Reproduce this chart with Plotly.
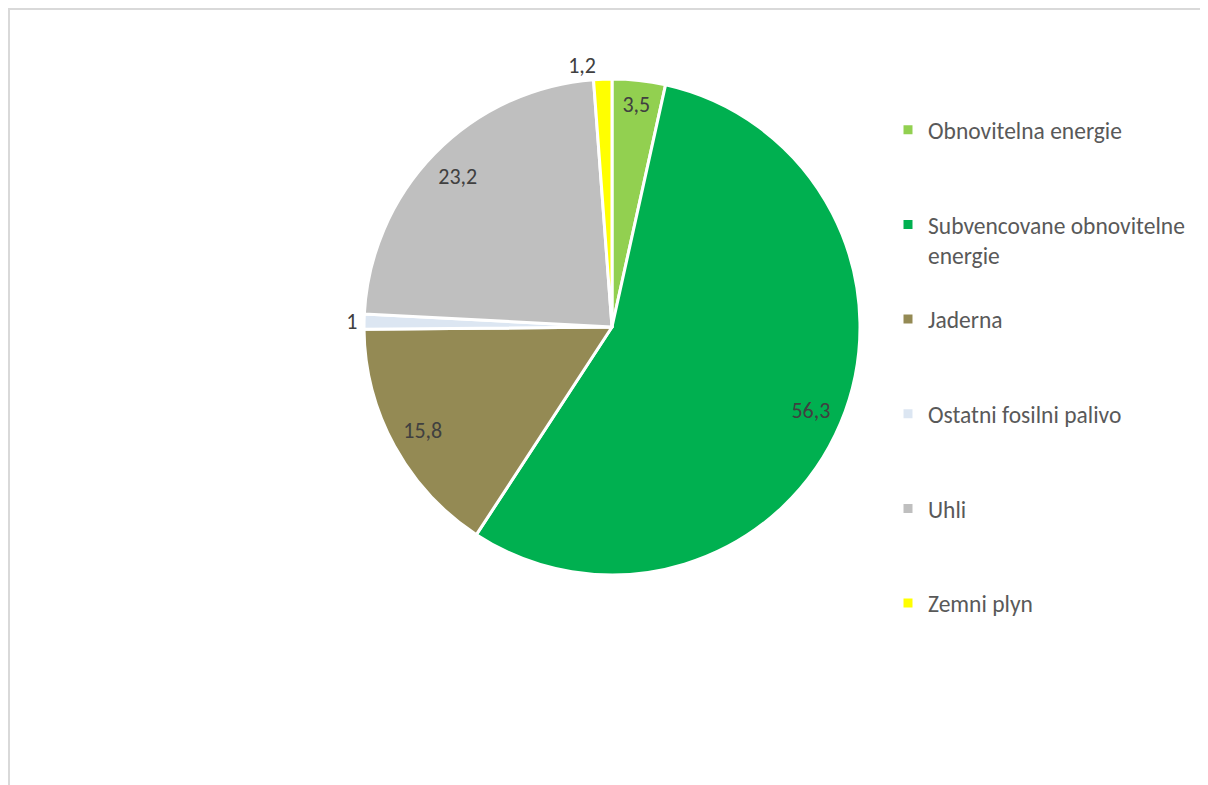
import plotly.graph_objects as go

categories = ["Obnovitelna energie", "Subvencovane obnovitelne energie", "Jaderna",
              "Ostatni fosilni palivo", "Uhli", "Zemni plyn"]
values = [3.5, 56.3, 15.8, 1.0, 23.2, 1.2]
colors = ["#92D050", "#00B050", "#948A54", "#DCE6F2", "#BFBFBF", "#FFFF00"]
text_positions = ["inside", "inside", "inside", "outside", "inside", "outside"]

# legend labels: wrap long label, pad every entry to 3 lines for even spacing
legend_labels = []
for c in categories:
    if c == "Subvencovane obnovitelne energie":
        base = "Subvencovane obnovitelne<br>energie"
    else:
        base = c
    nlines = base.count("<br>") + 1
    legend_labels.append(base + "<br> " * (3 - nlines))

value_text = [f"{v:g}".replace(".", ",") for v in values]

W, H = 1200, 777
cx, cy, r = 604, 319, 248
domain = dict(x=[(cx - r) / W, (cx + r) / W], y=[(H - cy - r) / H, (H - cy + r) / H])
FONT = "Carlito, Lato, sans-serif"
LABEL_SIZE = 22

fig = go.Figure()
# the pie itself
fig.add_trace(go.Pie(
    labels=legend_labels,
    values=values,
    textinfo="none",
    hoverinfo="label+value",
    sort=False,
    direction="clockwise",
    rotation=0,
    marker=dict(colors=colors, line=dict(color="white", width=3)),
    domain=domain,
))
# transparent ring carrying the data labels (places labels near the rim)
fig.add_trace(go.Pie(
    labels=legend_labels,
    values=values,
    text=value_text,
    textinfo="text",
    hoverinfo="skip",
    textposition=text_positions,
    insidetextorientation="horizontal",
    sort=False,
    direction="clockwise",
    rotation=0,
    hole=0.74,
    showlegend=False,
    marker=dict(colors=["rgba(0,0,0,0)"] * len(values), line=dict(width=0)),
    textfont=dict(family=FONT, size=LABEL_SIZE, color="#404040"),
    outsidetextfont=dict(family=FONT, size=LABEL_SIZE, color="#404040"),
    domain=domain,
))

fig.update_layout(
    width=W, height=H,
    margin=dict(l=0, r=0, t=0, b=0),
    paper_bgcolor="white",
    separators=", ",
    uniformtext=dict(mode="show", minsize=LABEL_SIZE),
    legend=dict(
        x=880 / W, y=1 - 100 / H, xanchor="left", yanchor="top",
        valign="top",
        font=dict(family=FONT, size=23.5, color="#595959"),
        bgcolor="rgba(0,0,0,0)",
    ),
    shapes=[
        dict(type="rect", xref="paper", yref="paper",
             x0=1 / W, x1=1.05, y0=-0.05, y1=1 - 1 / H,
             line=dict(color="#D9D9D9", width=2), fillcolor="rgba(0,0,0,0)", layer="below"),
    ],
)

fig.write_html("out.html")
